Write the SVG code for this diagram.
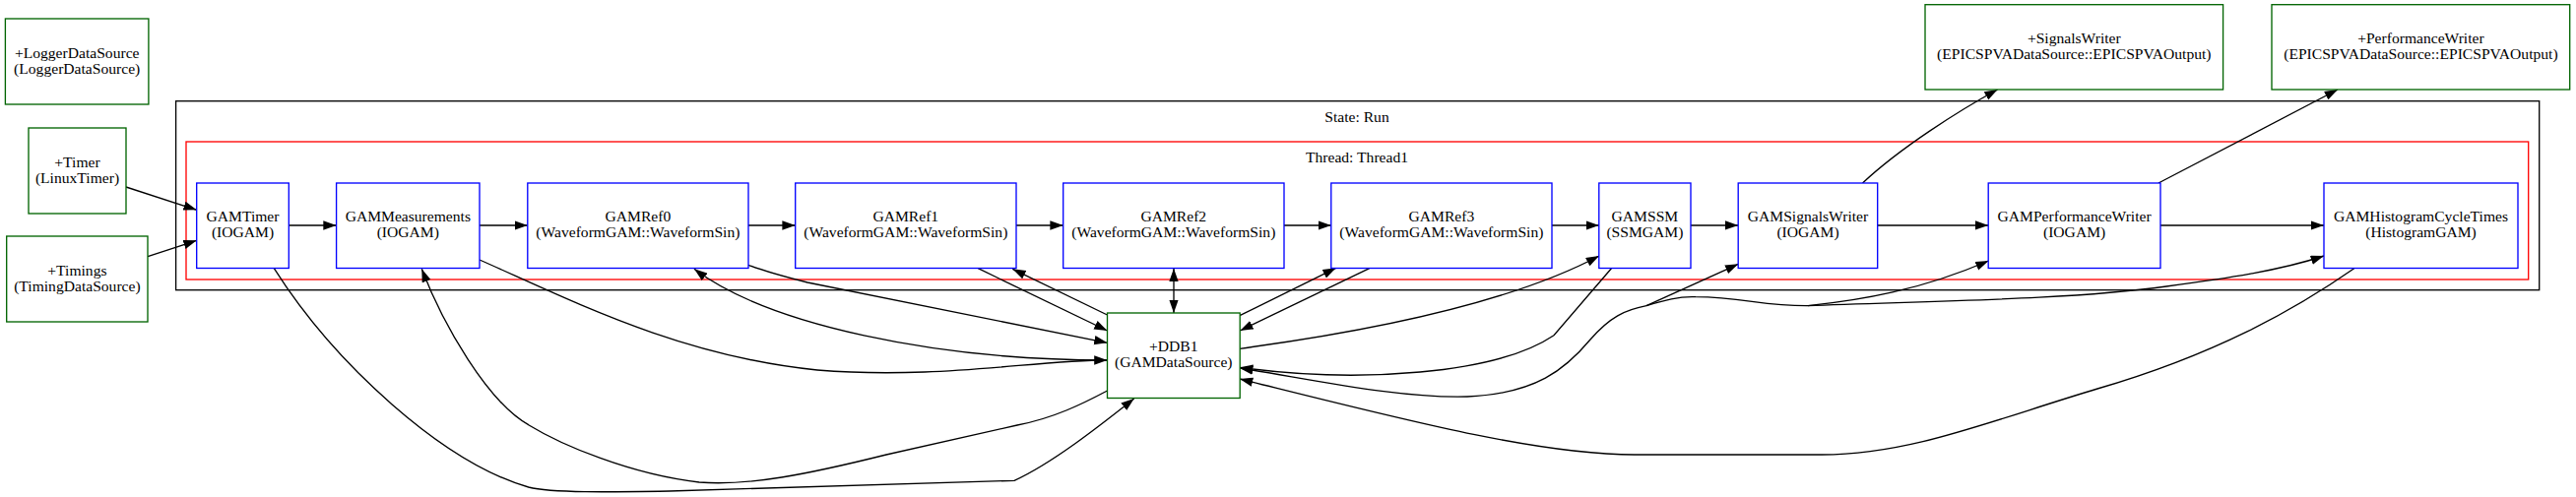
<svg xmlns="http://www.w3.org/2000/svg" width="2616" height="505" viewBox="0 0 2616 505">
<defs>
<marker id="ah" markerUnits="userSpaceOnUse" markerWidth="14" markerHeight="10" refX="13.3" refY="4.67" orient="auto-start-reverse" viewBox="0 0 14 10">
<path d="M0,0 L13.3,4.67 L0,9.33 z" fill="#000"/>
</marker>
<style>
text{font-family:"Liberation Serif","Times New Roman",serif;font-size:15.6px;fill:#000;text-anchor:middle}
.gam{fill:#fff;stroke:#0000ff;stroke-width:1.33}
.ds{fill:#fff;stroke:#006400;stroke-width:1.33}
.e{fill:none;stroke:#000;stroke-width:1.33;marker-end:url(#ah)}
.n{fill:none;stroke:#000;stroke-width:1.33}
</style>
</defs>
<rect width="2616" height="505" fill="#fff"/>
<g id="cluster_state">
<rect x="178.6" y="102.7" width="2400.1" height="192" fill="none" stroke="#000" stroke-width="1.33"/>
<text x="1378" y="123.5">State: Run</text>
</g>
<g id="cluster_thread">
<rect x="189" y="144" width="2378.7" height="140" fill="none" stroke="#ff0000" stroke-width="1.33"/>
<text x="1378" y="165">Thread: Thread1</text>
</g>
<g id="connectors">
<path class="e" d="M128,190 L199.7,213.3"/>
<path class="e" d="M150,260.7 L199.7,244.3"/>
<path class="e" d="M293.3,229 L341.6,229"/>
<path class="e" d="M487,229 L535.8,229"/>
<path class="e" d="M760,229 L807.7,229"/>
<path class="e" d="M1032,229 L1079.7,229"/>
<path class="e" d="M1304,229 L1351.8,229"/>
<path class="e" d="M1576,229 L1623.8,229"/>
<path class="e" d="M1717,229 L1765.2,229"/>
<path class="e" d="M1906.7,229 L2019.2,229"/>
<path class="e" d="M2194,229 L2360,229"/>
<path class="e" d="M1891.5,186 C1930,150 1990,112 2028.6,91"/>
<path class="e" d="M2192,186 L2374,91"/>
<path class="e" d="M278.3,272.7 C340,370 450,470 536.7,495 C560,501 620,500 680,499 L1030,488.3 C1070,470 1120,430 1151.7,405"/>
<path class="e" d="M1124.5,397 C1100,410 1070,425 1033,432 L900,462 C820,482 760,494 710,490 C640,482 570,452 536.7,431.7 C495,408 450,330 428.3,273.3"/>
<path class="e" d="M487,264 C580,305 690,362 830,376 C950,386 1050,366 1124.5,366"/>
<path class="e" d="M1124.5,366 C950,366 780,330 705,273.3"/>
<path class="e" d="M760,269.3 C780,277 800,282 820,287 L1124.5,348.3"/>
<path class="e" d="M993.3,272.7 L1124.5,336"/>
<path class="e" d="M1124.5,320 L1028.3,273.3"/>
<path class="e" d="M1192,272.7 L1192,318" style="marker-start:url(#ah)"/>
<path class="e" d="M1259,320.7 L1356.7,272.3"/>
<path class="e" d="M1390.7,272.7 L1259.3,336"/>
<path class="e" d="M1259,354.3 C1380,338 1530,310 1624,260"/>
<path class="e" d="M1636.4,272.7 L1578,340.7 C1520,380 1380,390 1259,373.3"/>
<path class="e" d="M1672,310.7 C1650,315 1635,322 1615,345 C1590,375 1560,400 1490,403 C1420,405 1330,385 1259,374"/>
<path class="e" d="M1672,310.7 L1765.3,268.3"/>
<path class="n" d="M1672,310.7 C1690,305 1705,301 1722,301.7 C1770,302 1790,311 1836,310.7"/>
<path class="e" d="M1836,310.7 C1890,305 1950,295 2019.5,265"/>
<path class="e" d="M1836,310.7 C1950,306 2100,305 2200,291 C2260,283 2315,275 2360,260"/>
<path class="e" d="M2390.7,272.7 C2330,315 2250,360 2130,395 C2020,428 1940,462 1850,462 L1660,462 C1560,462 1420,425 1259,385"/>
</g>
<g id="LoggerDataSource">
<rect class="ds" x="5.4" y="19" width="145.5" height="87"/>
<text x="78.2" y="58.5">+LoggerDataSource</text>
<text x="78.2" y="74.5">(LoggerDataSource)</text>
</g>
<g id="Timer">
<rect class="ds" x="29" y="130" width="99" height="87"/>
<text x="78.5" y="169.5">+Timer</text>
<text x="78.5" y="185.5">(LinuxTimer)</text>
</g>
<g id="Timings">
<rect class="ds" x="6.7" y="240" width="143.3" height="87"/>
<text x="78.4" y="279.5">+Timings</text>
<text x="78.4" y="295.5">(TimingDataSource)</text>
</g>
<g id="SignalsWriter">
<rect class="ds" x="1955" y="4.7" width="302.6" height="86.3"/>
<text x="2106.3" y="43.8">+SignalsWriter</text>
<text x="2106.3" y="59.8">(EPICSPVADataSource::EPICSPVAOutput)</text>
</g>
<g id="PerformanceWriter">
<rect class="ds" x="2307" y="4.7" width="302.7" height="86.3"/>
<text x="2458.4" y="43.8">+PerformanceWriter</text>
<text x="2458.4" y="59.8">(EPICSPVADataSource::EPICSPVAOutput)</text>
</g>
<g id="GAMTimer">
<rect class="gam" x="199.7" y="186" width="93.6" height="86.5"/>
<text x="246.5" y="225.2">GAMTimer</text>
<text x="246.5" y="241.2">(IOGAM)</text>
</g>
<g id="GAMMeasurements">
<rect class="gam" x="341.6" y="186" width="145.4" height="86.5"/>
<text x="414.3" y="225.2">GAMMeasurements</text>
<text x="414.3" y="241.2">(IOGAM)</text>
</g>
<g id="GAMRef0">
<rect class="gam" x="535.8" y="186" width="224.2" height="86.5"/>
<text x="647.9" y="225.2">GAMRef0</text>
<text x="647.9" y="241.2">(WaveformGAM::WaveformSin)</text>
</g>
<g id="GAMRef1">
<rect class="gam" x="807.7" y="186" width="224.3" height="86.5"/>
<text x="919.8" y="225.2">GAMRef1</text>
<text x="919.8" y="241.2">(WaveformGAM::WaveformSin)</text>
</g>
<g id="GAMRef2">
<rect class="gam" x="1079.7" y="186" width="224.3" height="86.5"/>
<text x="1191.8" y="225.2">GAMRef2</text>
<text x="1191.8" y="241.2">(WaveformGAM::WaveformSin)</text>
</g>
<g id="GAMRef3">
<rect class="gam" x="1351.8" y="186" width="224.2" height="86.5"/>
<text x="1463.9" y="225.2">GAMRef3</text>
<text x="1463.9" y="241.2">(WaveformGAM::WaveformSin)</text>
</g>
<g id="GAMSSM">
<rect class="gam" x="1623.8" y="186" width="93.2" height="86.5"/>
<text x="1670.4" y="225.2">GAMSSM</text>
<text x="1670.4" y="241.2">(SSMGAM)</text>
</g>
<g id="GAMSignalsWriter">
<rect class="gam" x="1765.2" y="186" width="141.5" height="86.5"/>
<text x="1836" y="225.2">GAMSignalsWriter</text>
<text x="1836" y="241.2">(IOGAM)</text>
</g>
<g id="GAMPerformanceWriter">
<rect class="gam" x="2019.2" y="186" width="174.8" height="86.5"/>
<text x="2106.6" y="225.2">GAMPerformanceWriter</text>
<text x="2106.6" y="241.2">(IOGAM)</text>
</g>
<g id="GAMHistogramCycleTimes">
<rect class="gam" x="2360" y="186" width="197" height="86.5"/>
<text x="2458.5" y="225.2">GAMHistogramCycleTimes</text>
<text x="2458.5" y="241.2">(HistogramGAM)</text>
</g>
<g id="DDB1">
<rect class="ds" x="1124.5" y="318" width="134.7" height="86.5"/>
<text x="1191.8" y="357.2">+DDB1</text>
<text x="1191.8" y="373.2">(GAMDataSource)</text>
</g>
</svg>
